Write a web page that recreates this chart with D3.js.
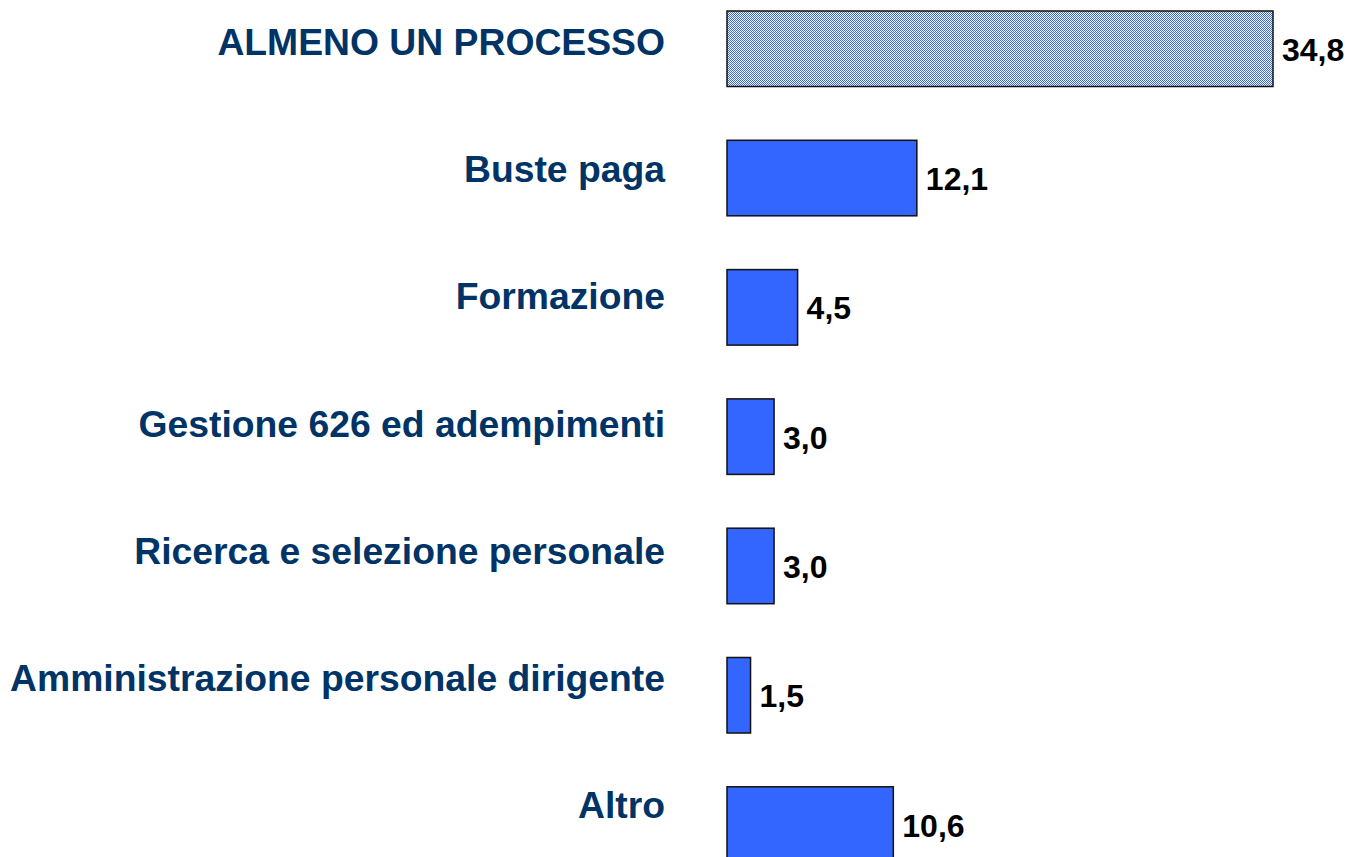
<!DOCTYPE html>
<html>
<head>
<meta charset="utf-8">
<script src="https://cdn.jsdelivr.net/npm/d3@7"></script>
<style>
  body { margin: 0; background: #fff; }
  svg { display: block; }
</style>
</head>
<body>
<svg id="chart" width="1350" height="857"></svg>
<script>
// data
const categories = [
  "ALMENO UN PROCESSO",
  "Buste paga",
  "Formazione",
  "Gestione 626 ed adempimenti",
  "Ricerca e selezione personale",
  "Amministrazione personale dirigente",
  "Altro"
];
const values = [34.8, 12.1, 4.5, 3.0, 3.0, 1.5, 10.6];
const valueLabels = ["34,8", "12,1", "4,5", "3,0", "3,0", "1,5", "10,6"];

const data = categories.map((c, i) => ({ cat: c, value: values[i], label: valueLabels[i] }));

const svg = d3.select("#chart");

// dotted pattern for the total bar
const defs = svg.append("defs");
const pat = defs.append("pattern")
  .attr("id", "dots")
  .attr("patternUnits", "userSpaceOnUse")
  .attr("width", 2)
  .attr("height", 2);
pat.append("rect").attr("width", 2).attr("height", 2).attr("fill", "#ffffff");
pat.append("rect").attr("x", 0).attr("y", 0).attr("width", 1).attr("height", 1).attr("fill", "#3366ff");
pat.append("rect").attr("x", 1).attr("y", 1).attr("width", 1).attr("height", 1).attr("fill", "#3366ff");

// scales
const xScale = d3.scaleLinear()
  .domain([0, d3.max(values)])
  .range([727, 1273]);

const yScale = d3.scaleBand()
  .domain(categories)
  .range([-15.9, 889.2])
  .paddingInner(0.416)
  .paddingOuter(0.208);

// category text sits on its own, slightly tighter spacing
const labelScale = d3.scalePoint()
  .domain(categories)
  .range([55, 818]);

// bars
svg.selectAll(".bar")
  .data(data)
  .enter()
  .append("rect")
  .attr("class", "bar")
  .attr("x", xScale(0))
  .attr("y", d => yScale(d.cat))
  .attr("width", d => xScale(d.value) - xScale(0))
  .attr("height", yScale.bandwidth())
  .attr("fill", (d, i) => i === 0 ? "url(#dots)" : "#3366ff")
  .attr("stroke", "#111")
  .attr("stroke-width", 1.5);

// value labels
svg.selectAll(".val")
  .data(data)
  .enter()
  .append("text")
  .attr("class", "val")
  .attr("x", d => xScale(d.value) + 9)
  .attr("y", d => yScale(d.cat) + yScale.bandwidth() / 2 + 12)
  .attr("font-family", "'Liberation Sans', Arial, sans-serif")
  .attr("font-weight", "bold")
  .attr("font-size", 32)
  .attr("fill", "#000")
  .text(d => d.label);

// category labels
svg.selectAll(".cat")
  .data(data)
  .enter()
  .append("text")
  .attr("class", "cat")
  .attr("x", 665)
  .attr("y", d => labelScale(d.cat))
  .attr("text-anchor", "end")
  .attr("font-family", "'Liberation Sans', Arial, sans-serif")
  .attr("font-weight", "bold")
  .attr("font-size", 37.3)
  .attr("fill", "#003366")
  .text(d => d.cat);
</script>
</body>
</html>
